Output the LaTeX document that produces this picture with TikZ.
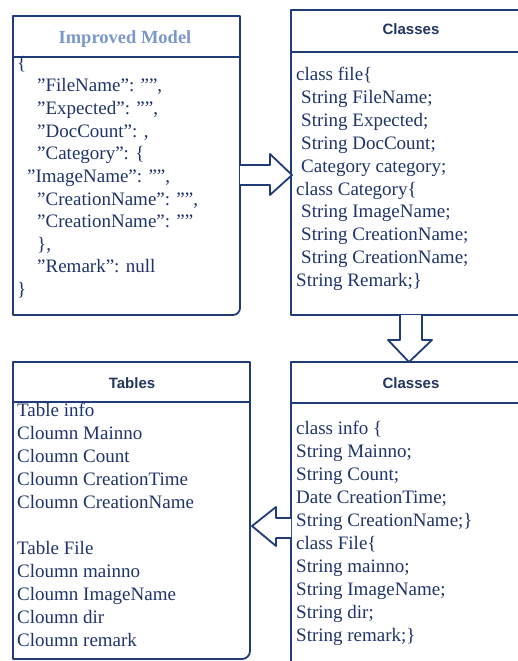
\documentclass[tikz,border=0pt]{standalone}
\usepackage{fontspec}
\setmainfont{Liberation Serif}[Ligatures=ResetAll]
\newfontfamily\hdsans{Liberation Sans}
\definecolor{navy}{HTML}{1F3C78}
\definecolor{txtblue}{HTML}{1E3469}
\definecolor{hdblue}{HTML}{22355F}
\definecolor{lightblue}{HTML}{7C98CA}
\tikzset{
  boxline/.style={draw=navy, line width=1.8pt, line join=round, line cap=round},
  bodytxt/.style={anchor=base west, inner sep=0pt, text=txtblue, font=\fontsize{19}{23}\selectfont},
  sanshead/.style={anchor=base, inner sep=0pt, text=hdblue, font=\hdsans\bfseries\fontsize{15}{18}\selectfont},
  serifhead/.style={anchor=base, inner sep=0pt, text=lightblue, font=\bfseries\fontsize{18.5}{22}\selectfont},
  blockarrow/.style={boxline, fill=white},
}
\newcommand\bodyline[4]{\node[bodytxt] (#1) at (#2,#3) {#4};}
\newcommand\dq{\symbol{34}}
\begin{document}
\begin{tikzpicture}[x=1pt,y=-1pt]
\useasboundingbox (0,0) rectangle (518,661);
\clip (0,0) rectangle (518,661);

% ---------- Box 1: Improved Model ----------
\node[serifhead] (h1) at (125,43.5) {Improved Model};
\bodyline{a0}{17}{69.4}{\{}
\bodyline{a1}{37}{92}{\dq FileName\dq: \dq\dq,}
\bodyline{a2}{37}{114.6}{\dq Expected\dq: \dq\dq,}
\bodyline{a3}{37}{137.2}{\dq DocCount\dq: ,}
\bodyline{a4}{37}{159.8}{\dq Category\dq: \{}
\bodyline{a5}{27}{182.4}{\dq ImageName\dq: \dq\dq,}
\bodyline{a6}{37}{205}{\dq CreationName\dq: \dq\dq,}
\bodyline{a7}{37}{227.6}{\dq CreationName\dq: \dq\dq}
\bodyline{a8}{37}{250.2}{\},}
\bodyline{a9}{37}{272.8}{\dq Remark\dq: null}
\bodyline{a10}{17}{295.4}{\}}
\draw[boxline] (240,250) -- (240,16) -- (13,16) -- (13,315) -- (200,315);
\draw[boxline, rounded corners=7pt] (200,315) -- (240,315) -- (240,250);
\draw[boxline] (13,57) -- (240,57);

% ---------- Box 2: Classes (top) ----------
\node[sanshead] (h2) at (411,35) {Classes};
\bodyline{b0}{296}{81}{class file\{}
\bodyline{b1}{301}{103.8}{String FileName;}
\bodyline{b2}{301}{126.6}{String Expected;}
\bodyline{b3}{301}{149.4}{String DocCount;}
\bodyline{b4}{301}{172.2}{Category category;}
\bodyline{b5}{296}{195}{class Category\{}
\bodyline{b6}{301}{217.8}{String ImageName;}
\bodyline{b7}{301}{240.6}{String CreationName;}
\bodyline{b8}{301}{263.4}{String CreationName;}
\bodyline{b9}{296}{286.2}{String Remark;\}}
\draw[boxline] (530,10) -- (291,10) -- (291,315) -- (530,315);
\draw[boxline] (291,52) -- (530,52);

% ---------- Box 3: Classes (bottom) ----------
\node[sanshead] (h3) at (411,388) {Classes};
\bodyline{c0}{296}{434}{class info \{}
\bodyline{c1}{296}{457}{String Mainno;}
\bodyline{c2}{296}{480}{String Count;}
\bodyline{c3}{296}{503}{Date CreationTime;}
\bodyline{c4}{296}{526}{String CreationName;\}}
\bodyline{c5}{296}{549}{class File\{}
\bodyline{c6}{296}{572}{String mainno;}
\bodyline{c7}{296}{595}{String ImageName;}
\bodyline{c8}{296}{618}{String dir;}
\bodyline{c9}{296}{641}{String remark;\}}
\draw[boxline] (530,362) -- (291,362) -- (291,670);
\draw[boxline] (291,403) -- (530,403);

% ---------- Box 4: Tables ----------
\node[sanshead] (h4) at (132,388) {Tables};
\bodyline{d0}{17}{416}{Table info}
\bodyline{d1}{17}{439}{Cloumn Mainno}
\bodyline{d2}{17}{462}{Cloumn Count}
\bodyline{d3}{17}{485}{Cloumn CreationTime}
\bodyline{d4}{17}{508}{Cloumn CreationName}
\bodyline{d5}{17}{554}{Table File}
\bodyline{d6}{17}{577}{Cloumn mainno}
\bodyline{d7}{17}{600}{Cloumn ImageName}
\bodyline{d8}{17}{623}{Cloumn dir}
\bodyline{d9}{17}{646}{Cloumn remark}
\draw[boxline] (250,600) -- (250,362) -- (13,362) -- (13,659) -- (180,659);
\draw[boxline, rounded corners=8pt] (250,600) -- (250,659) -- (180,659);
\draw[boxline] (13,402) -- (250,402);

% ---------- Block arrows ----------
\draw[blockarrow] (240,165) -- (270,165) -- (270,154) -- (292,175)
   -- (270,195) -- (270,185) -- (240,185);
\draw[blockarrow] (400,315) -- (400,340) -- (388,340) -- (409,362)
   -- (432,340) -- (422,340) -- (422,315);
\draw[blockarrow] (291,518) -- (276,518) -- (276,507) -- (252,526)
   -- (276,546) -- (276,538) -- (291,538);
\end{tikzpicture}
\end{document}
